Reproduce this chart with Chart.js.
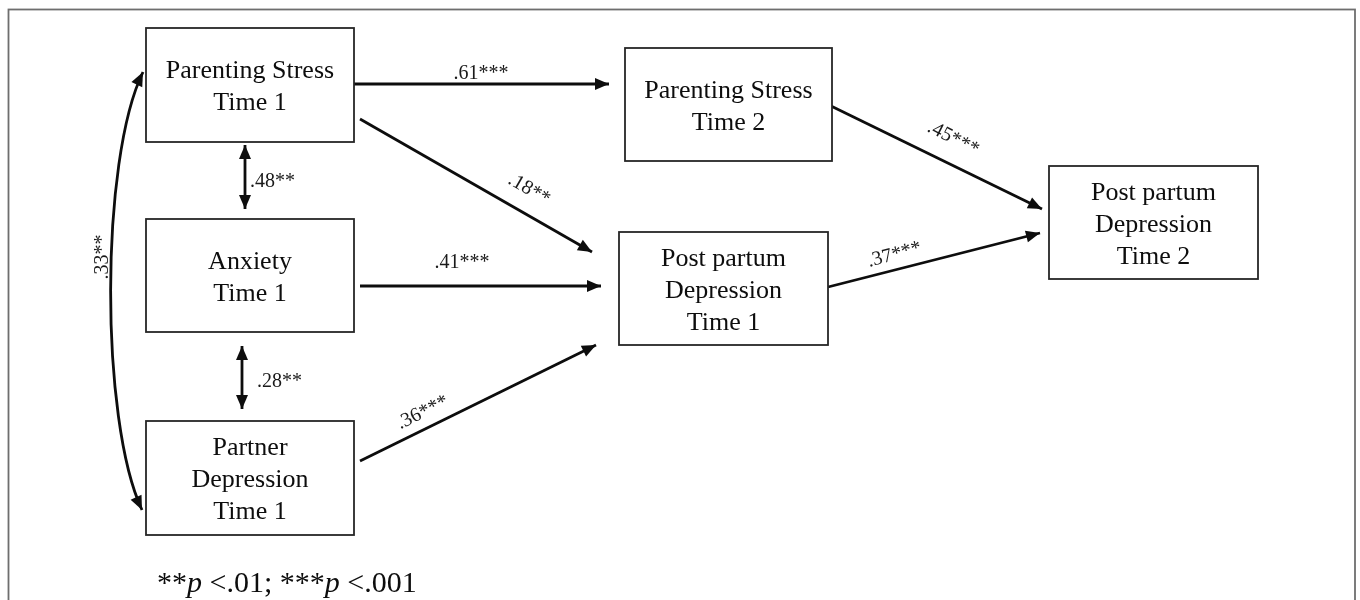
<!DOCTYPE html>
<html>
<head>
<meta charset="utf-8">
<script src="https://cdn.jsdelivr.net/npm/chart.js@4.4.1/dist/chart.umd.min.js"></script>
<style>
html,body{margin:0;padding:0;background:#fff;}
#wrap{width:1360px;height:600px;position:relative;}
</style>
</head>
<body>
<div id="wrap"><canvas id="c" width="1360" height="600"></canvas></div>
<script>
// ---------- DATA ----------
const nodeLabels = [
  ["Parenting Stress", "Time 1"],
  ["Anxiety", "Time 1"],
  ["Partner", "Depression", "Time 1"],
  ["Parenting Stress", "Time 2"],
  ["Post partum", "Depression", "Time 1"],
  ["Post partum", "Depression", "Time 2"]
];
// directed paths (regression coefficients)
const pathFrom = [0, 0, 1, 2, 3, 4];
const pathTo   = [3, 4, 4, 4, 5, 5];
const pathCoef = [".61", ".18", ".41", ".36", ".45", ".37"];
const pathSig  = ["***", "**", "***", "***", "***", "***"];
// correlations (double-headed)
const corrFrom = [0, 1, 0];
const corrTo   = [1, 2, 2];
const corrCoef = [".48", ".28", ".33"];
const corrSig  = ["**", "**", "**"];
const footnoteParts = [["**", false], ["p", true], [" <.01; ***", false], ["p", true], [" <.001", false]];

// ---------- LAYOUT (positions in diagram units, 1 unit = 1px) ----------
const layout = {
  boxes: [
    [146, 28, 354, 142],
    [146, 219, 354, 332],
    [146, 421, 354, 535],
    [625, 48, 832, 161],
    [619, 232, 828, 345],
    [1049, 166, 1258, 279]
  ],
  paths: [
    [354, 84, 609, 84],
    [360, 119, 592, 252],
    [360, 286, 601, 286],
    [360, 461, 596, 345],
    [831, 106, 1042, 209],
    [828, 287, 1040, 233]
  ],
  pathLabels: [
    [481, 72, 0],
    [530, 188, 30],
    [462, 261, 0],
    [422, 411, -26],
    [954, 137, 27],
    [894, 253, -15]
  ],
  corrs: [
    [245, 145, 245, 209],
    [242, 346, 242, 409]
  ],
  corrLabels: [
    [250, 180, 0, 'left'],
    [257, 380, 0, 'left'],
    [101, 257, -90, 'center']
  ],
  curve: [143, 72, 100, 160, 100, 420, 142, 510],
  footnote: [157, 592]
};

const SERIF = '"Liberation Serif", "Times New Roman", "DejaVu Serif", serif';
const INK = '#0d0d0d';

// ---------- DATASETS ----------
const datasets = [];
pathFrom.forEach((f, i) => {
  const p = layout.paths[i];
  datasets.push({
    label: nodeLabels[f].join(' ') + ' -> ' + nodeLabels[pathTo[i]].join(' '),
    data: [{x: p[0], y: p[1]}, {x: p[2], y: p[3]}],
    heads: 'end',
    showLine: true, borderColor: INK, borderWidth: 2.8,
    pointRadius: 0, pointHoverRadius: 0, fill: false, tension: 0
  });
});
layout.corrs.forEach((p, i) => {
  datasets.push({
    label: nodeLabels[corrFrom[i]].join(' ') + ' <-> ' + nodeLabels[corrTo[i]].join(' '),
    data: [{x: p[0], y: p[1]}, {x: p[2], y: p[3]}],
    heads: 'both',
    showLine: true, borderColor: INK, borderWidth: 2.8,
    pointRadius: 0, pointHoverRadius: 0, fill: false, tension: 0
  });
});

function arrowHead(ctx, x, y, ang, len, half) {
  ctx.save();
  ctx.translate(x, y);
  ctx.rotate(ang);
  ctx.beginPath();
  ctx.moveTo(0, 0);
  ctx.lineTo(-len, -half);
  ctx.lineTo(-len, half);
  ctx.closePath();
  ctx.fillStyle = INK;
  ctx.fill();
  ctx.restore();
}

const diagramPlugin = {
  id: 'diagram',
  beforeDatasetsDraw(chart) {
    const ctx = chart.ctx;
    const X = v => chart.scales.x.getPixelForValue(v);
    const Y = v => chart.scales.y.getPixelForValue(v);
    // outer frame
    ctx.save();
    ctx.strokeStyle = '#6e6e6e';
    ctx.lineWidth = 1.8;
    ctx.strokeRect(X(8.5), Y(9.5), X(1355) - X(8.5), Y(640) - Y(9.5));
    ctx.restore();
  },
  afterDatasetsDraw(chart) {
    const ctx = chart.ctx;
    const X = v => chart.scales.x.getPixelForValue(v);
    const Y = v => chart.scales.y.getPixelForValue(v);

    // arrowheads from dataset geometry
    chart.data.datasets.forEach((ds, i) => {
      const pts = chart.getDatasetMeta(i).data;
      const a = pts[0], b = pts[pts.length - 1];
      const ang = Math.atan2(b.y - a.y, b.x - a.x);
      arrowHead(ctx, b.x, b.y, ang, 14, 6);
      if (ds.heads === 'both') arrowHead(ctx, a.x, a.y, ang + Math.PI, 14, 6);
    });

    // curved correlation
    const c = layout.curve;
    ctx.save();
    ctx.strokeStyle = INK;
    ctx.lineWidth = 2.8;
    ctx.beginPath();
    ctx.moveTo(X(c[0]), Y(c[1]));
    ctx.bezierCurveTo(X(c[2]), Y(c[3]), X(c[4]), Y(c[5]), X(c[6]), Y(c[7]));
    ctx.stroke();
    ctx.restore();
    arrowHead(ctx, X(c[0]), Y(c[1]), Math.atan2(Y(c[1]) - Y(c[3]), X(c[0]) - X(c[2])), 14, 6);
    arrowHead(ctx, X(c[6]), Y(c[7]), Math.atan2(Y(c[7]) - Y(c[5]), X(c[6]) - X(c[4])), 14, 6);

    // boxes
    layout.boxes.forEach((b, i) => {
      const x1 = X(b[0]), y1 = Y(b[1]), x2 = X(b[2]), y2 = Y(b[3]);
      ctx.save();
      ctx.fillStyle = '#fff';
      ctx.fillRect(x1, y1, x2 - x1, y2 - y1);
      ctx.strokeStyle = '#262626';
      ctx.lineWidth = 1.8;
      ctx.strokeRect(x1, y1, x2 - x1, y2 - y1);
      ctx.fillStyle = INK;
      ctx.font = '26px ' + SERIF;
      ctx.textAlign = 'center';
      ctx.textBaseline = 'alphabetic';
      const lines = nodeLabels[i];
      const cx = (x1 + x2) / 2, cy = (y1 + y2) / 2;
      lines.forEach((t, k) => {
        ctx.fillText(t, cx, cy + (k - (lines.length - 1) / 2) * 32 + 9);
      });
      ctx.restore();
    });

    // labels
    function label(txt, x, y, deg, align) {
      ctx.save();
      ctx.translate(X(x), Y(y));
      ctx.rotate(deg * Math.PI / 180);
      ctx.fillStyle = '#1a1a1a';
      ctx.font = '20px ' + SERIF;
      ctx.textAlign = align || 'center';
      ctx.textBaseline = 'alphabetic';
      ctx.fillText(txt, 0, 7);
      ctx.restore();
    }
    layout.pathLabels.forEach((p, i) => label(pathCoef[i] + pathSig[i], p[0], p[1], p[2], 'center'));
    layout.corrLabels.forEach((p, i) => label(corrCoef[i] + corrSig[i], p[0], p[1], p[2], p[3]));

    // footnote
    ctx.save();
    ctx.fillStyle = INK;
    ctx.textAlign = 'left';
    ctx.textBaseline = 'alphabetic';
    let fx = X(layout.footnote[0]);
    const fy = Y(layout.footnote[1]);
    footnoteParts.forEach(([t, it]) => {
      ctx.font = (it ? 'italic ' : '') + '30px ' + SERIF;
      ctx.fillText(t, fx, fy);
      fx += ctx.measureText(t).width;
    });
    ctx.restore();
  }
};

new Chart(document.getElementById('c'), {
  type: 'scatter',
  data: { datasets },
  options: {
    responsive: false,
    devicePixelRatio: 1,
    animation: false,
    layout: { padding: 0 },
    clip: false,
    events: [],
    scales: {
      x: { type: 'linear', min: 0, max: 1360, display: false },
      y: { type: 'linear', min: 0, max: 600, reverse: true, display: false }
    },
    plugins: { legend: { display: false }, tooltip: { enabled: false }, title: { display: false } }
  },
  plugins: [diagramPlugin]
});
</script>
</body>
</html>
